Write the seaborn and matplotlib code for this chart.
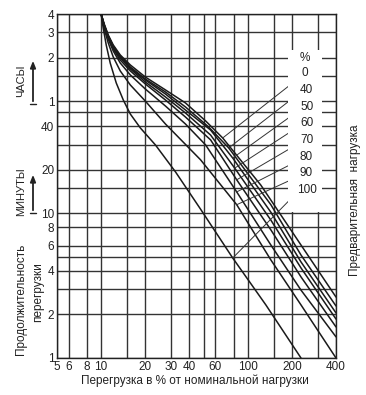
import numpy as np
import pandas as pd
import seaborn as sns
import matplotlib
matplotlib.use("Agg")
import matplotlib.pyplot as plt
from matplotlib.patches import Rectangle

# ---- data (overload % vs permissible duration, minutes) ----
preload_labels = ["0", "40", "50", "60", "70", "80", "90", "100"]

x_0 = [10, 10.5, 11.18, 12.09, 13.5, 15.81, 20.0, 27.46, 37.6, 51.6, 67.5, 122.9, 230.8, 400]
t_0 = [240, 204.8, 171.9, 146.6, 125.0, 106.6, 88.0, 71.6, 58.2, 43.7, 33.3, 15.7, 6.05, 2.64]
x_40 = [10, 10.5, 11.18, 12.09, 13.5, 15.81, 20.0, 27.46, 37.6, 54.1, 74.2, 143.8, 230.8, 400]
t_40 = [240, 201.6, 169.2, 144.3, 123.0, 103.2, 85.3, 69.3, 54.6, 39.7, 28.4, 11.5, 5.16, 2.29]
x_50 = [10, 10.5, 11.18, 12.09, 13.5, 15.81, 20.0, 27.46, 37.6, 55.8, 79.0, 143.8, 230.8, 400]
t_50 = [240, 201.6, 169.2, 142.0, 121.1, 101.6, 83.9, 67.1, 52.0, 37.8, 24.2, 10.2, 4.62, 2.05]
x_60 = [10, 10.5, 11.18, 12.09, 13.5, 15.81, 20.0, 27.46, 37.6, 55.8, 81.5, 143.8, 230.8, 400]
t_60 = [240, 198.4, 166.5, 139.8, 119.2, 100.0, 81.3, 64.0, 49.6, 34.9, 20.6, 9.0, 4.20, 1.86]
x_70 = [10, 10.5, 11.18, 12.09, 13.5, 15.81, 20.0, 27.46, 37.6, 55.8, 84.1, 143.8, 230.8, 400]
t_70 = [240, 198.4, 163.9, 137.5, 115.4, 96.9, 78.8, 61.0, 46.5, 32.3, 17.1, 7.7, 3.64, 1.64]
x_80 = [10, 10.5, 11.18, 12.09, 13.5, 15.81, 20.0, 27.46, 37.6, 51.6, 84.1, 143.8, 230.8, 400]
t_80 = [240, 195.3, 161.3, 133.2, 110.0, 90.9, 72.7, 55.4, 41.6, 29.8, 14.1, 6.05, 2.95, 1.40]
x_90 = [10, 10.5, 11.18, 12.09, 13.5, 15.81, 20.0, 27.46, 47.7, 84.1, 143.8, 230.8, 400]
t_90 = [240, 189.2, 151.4, 121.1, 96.9, 77.5, 60.0, 41.6, 23.5, 11.5, 4.77, 2.33, 1.0]
x_100 = [10, 10.33, 10.83, 11.53, 12.68, 14.16, 15.81, 18.5, 23.46, 32.15, 47.7, 79.0, 132.9, 230.8]
t_100 = [240, 192.2, 146.6, 110.0, 80.0, 61.0, 48.8, 39.1, 29.8, 19.4, 10.7, 4.92, 2.33, 1.0]

# points where label leader lines touch the curves (x %, t min)
leader_x = [67.5, 74.2, 79.0, 81.5, 84.1, 84.1, 84.1, 79.0]
leader_t = [33.3, 28.4, 24.2, 20.6, 17.1, 14.1, 11.5, 4.92]

x_grid = [5, 6, 8, 10, 15, 20, 30, 40, 50, 60, 80, 100, 150, 200, 300, 400]
x_ticks = [5, 6, 8, 10, 20, 30, 40, 60, 100, 200, 400]
y_grid = [1, 2, 3, 4, 5, 6, 8, 10, 15, 20, 30, 40, 50, 60, 90, 120, 180, 240]
y_ticks = [1, 2, 4, 6, 8, 10, 20, 40, 60, 120, 180, 240]
y_ticklabels = ["1", "2", "4", "6", "8", "10", "20", "40", "1", "2", "3", "4"]

xs = [x_0, x_40, x_50, x_60, x_70, x_80, x_90, x_100]
ts = [t_0, t_40, t_50, t_60, t_70, t_80, t_90, t_100]
frames = []
for lab, xv, tv in zip(preload_labels, xs, ts):
    frames.append(pd.DataFrame({"x": xv, "t": tv, "preload": lab}))
df = pd.concat(frames, ignore_index=True)

sns.set_theme(style="white")
plt.rcParams["font.family"] = ["Liberation Sans", "DejaVu Sans"]

W, H = 366, 395
fig = plt.figure(figsize=(W / 100, H / 100), dpi=100)
L, R, T, B = 57, 336, 14, 358
ax = fig.add_axes([L / W, 1 - B / H, (R - L) / W, (B - T) / H])
ax.set_xscale("log")
ax.set_yscale("log")
ax.set_xlim(5, 400)
ax.set_ylim(1, 240)

gc = "#333333"
for xv in x_grid:
    ax.axvline(xv, color=gc, lw=1.0, zorder=1)
for yv in y_grid:
    ax.axhline(yv, color=gc, lw=1.0, zorder=1)

sns.lineplot(data=df, x="x", y="t", units="preload", estimator=None, sort=False,
             color="#1a1a1a", lw=1.1, ax=ax, legend=False, zorder=3)

ax.xaxis.set_major_locator(matplotlib.ticker.FixedLocator(x_ticks))
ax.xaxis.set_minor_locator(matplotlib.ticker.NullLocator())
ax.set_xticklabels([str(v) for v in x_ticks])
ax.yaxis.set_major_locator(matplotlib.ticker.FixedLocator(y_ticks))
ax.yaxis.set_minor_locator(matplotlib.ticker.NullLocator())
ax.set_yticklabels(y_ticklabels)
ax.tick_params(axis="both", length=0, pad=2, labelsize=8.5, colors="#222222")
ax.set_xlabel("")
ax.set_ylabel("")
for s in ax.spines.values():
    s.set_color("#222222")
    s.set_linewidth(1.0)

# white box behind the preload labels
fig.add_artist(Rectangle((288 / W, 1 - 212 / H), 34 / W, 162 / H,
                         transform=fig.transFigure, facecolor="white",
                         edgecolor="none", zorder=2))

label_y = [73, 90, 107, 123, 140, 157, 173, 190]
label_x = [302, 300, 300, 300, 300, 300, 300, 297]
fs = 8.5
fig.text(305 / W, 1 - 58 / H, "%", ha="center", va="center", fontsize=fs, color="#222", zorder=5)
for lab, lx, ly, dx, dt in zip(preload_labels, label_x, label_y, leader_x, leader_t):
    fig.text(lx / W, 1 - ly / H, lab, ha="left", va="center", fontsize=fs, color="#222", zorder=5)
    ax.annotate("", xy=(dx, dt), xycoords="data",
                xytext=(lx - 0.5, H - ly - 3), textcoords="figure pixels",
                arrowprops=dict(arrowstyle="-", lw=0.7, color="#333", shrinkA=0, shrinkB=0),
                zorder=4, annotation_clip=False)

fig.text(195 / W, 1 - 381 / H, "Перегрузка в % от номинальной нагрузки",
         ha="center", va="center", fontsize=8.5, color="#222")
fig.text(355 / W, 1 - 200 / H, "Предварительная  нагрузка", rotation=90,
         ha="center", va="center", fontsize=8.5, color="#222")
fig.text(21 / W, 1 - 299 / H, "Продолжительность", rotation=90,
         ha="center", va="center", fontsize=8.5, color="#222")
fig.text(38 / W, 1 - 292 / H, "перегрузки", rotation=90,
         ha="center", va="center", fontsize=8.5, color="#222")
fig.text(21 / W, 1 - 192 / H, "МИНУТЫ", rotation=90,
         ha="center", va="center", fontsize=8, color="#222")
fig.text(21 / W, 1 - 81 / H, "ЧАСЫ", rotation=90,
         ha="center", va="center", fontsize=8, color="#222")

for ybot, ytop in [(104, 58), (213, 172)]:
    fig.add_artist(matplotlib.patches.FancyArrowPatch(
        (33 / W, 1 - ybot / H), (33 / W, 1 - ytop / H), transform=fig.transFigure,
        arrowstyle="-|>,head_length=4,head_width=1.6", lw=1.3, color="#222",
        mutation_scale=1))
    fig.add_artist(matplotlib.lines.Line2D([30 / W, 36 / W], [1 - ybot / H, 1 - ybot / H],
                                           transform=fig.transFigure, lw=1.0, color="#222"))

fig.savefig("out.png", dpi=100)
